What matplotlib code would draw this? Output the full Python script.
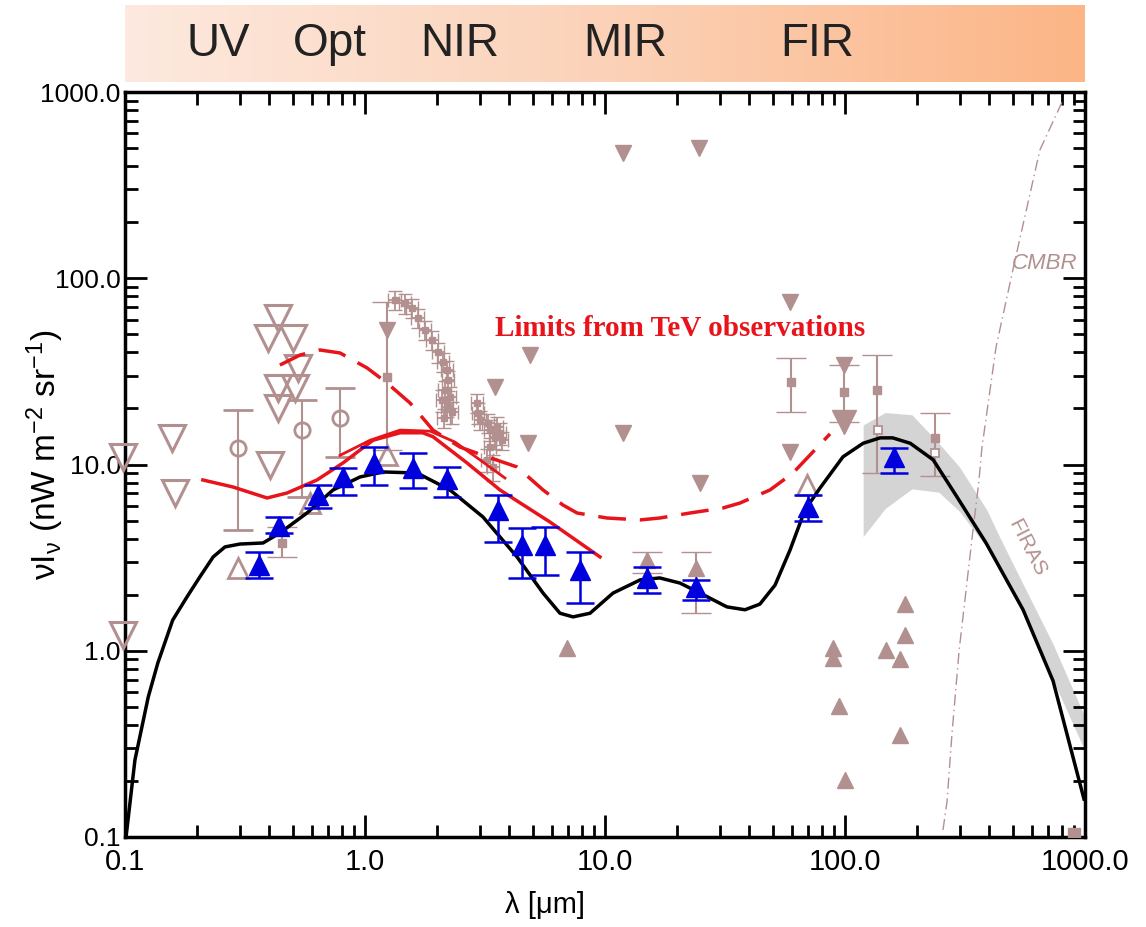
import numpy as np
import matplotlib.pyplot as plt
from matplotlib.colors import LinearSegmentedColormap
from matplotlib.ticker import FixedLocator, LogLocator, NullFormatter

plt.rcParams['font.family'] = ['Liberation Sans', 'DejaVu Sans']
plt.rcParams['mathtext.fontset'] = 'custom'
plt.rcParams['mathtext.rm'] = 'Liberation Sans'
plt.rcParams['mathtext.it'] = 'Liberation Sans:italic'

BROWN = '#b39090'
BLUE = '#0000dd'
RED = '#e8141c'

# --- banner
band_labels = ['UV', 'Opt', 'NIR', 'MIR', 'FIR']

# --- model curve (black)
model_x = [0.101, 0.110, 0.125, 0.137, 0.158, 0.181, 0.205, 0.233, 0.261, 0.301, 0.376, 0.442,
           0.573, 0.736, 0.953, 1.19, 1.65, 2.26, 3.10, 4.30, 5.52, 6.49, 7.36, 8.66, 10.8, 14.0,
           16.9, 20.5, 24.9, 32.2, 38.3, 44.2, 51.1, 59.0, 68.1, 78.7, 98.1, 119, 140, 158, 187,
           233, 293, 387, 552, 736, 990]
model_y = [0.1, 0.259, 0.565, 0.859, 1.46, 1.94, 2.49, 3.19, 3.61, 3.74, 3.79, 4.29,
           5.49, 7.30, 8.57, 9.12, 9.0, 7.30, 5.23, 3.19, 2.04, 1.59, 1.52, 1.59, 2.04, 2.40,
           2.46, 2.31, 2.04, 1.72, 1.66, 1.78, 2.25, 3.47, 5.70, 7.48, 11.0, 13.0, 13.9, 13.9, 13.0,
           10.6, 6.69, 3.79, 1.66, 0.689, 0.16]

# --- TeV limits (red)
tev1_x = [0.211, 0.282, 0.391, 0.473, 0.631, 0.81, 1.08, 1.40, 1.74, 1.92, 2.66, 3.65, 5.90, 9.53]
tev1_y = [8.26, 7.57, 6.61, 7.03, 8.26, 10.2, 13.5, 14.8, 14.8, 14.1, 10.2, 7.30, 4.91, 3.19]
tev2_x = [0.787, 1.05, 1.40, 1.87, 2.37, 3.01, 3.83]
tev2_y = [11.2, 13.5, 15.3, 15.1, 13.2, 10.6, 8.46]
tev3_x = [0.442, 0.536, 0.649, 0.787, 1.02, 1.235, 1.54, 1.92, 2.49, 3.10, 4.30, 5.52, 6.68,
          7.65, 10.2, 14.0, 16.9, 22.6, 31.0, 36.5, 48.7, 60.7, 86.6]
tev3_y = [34.2, 38.7, 41.2, 39.7, 33.0, 27.4, 21.4, 15.3, 12.4, 11.2, 9.70, 7.30, 6.06,
          5.49, 5.16, 5.04, 5.16, 5.49, 5.84, 6.21, 7.30, 9.0, 14.6]

# --- blue triangles
blue_x = [0.36, 0.44, 0.64, 0.81, 1.09, 1.585, 2.2, 3.58, 4.5, 5.62, 7.9, 15, 24, 70, 160]
blue_y = [2.9, 4.7, 6.9, 8.6, 10.2, 9.6, 8.4, 5.7, 3.7, 3.7, 2.7, 2.45, 2.2, 5.9, 11.0]
blue_lo = [2.46, 4.29, 5.83, 6.86, 7.76, 7.5, 6.7, 3.83, 2.46, 2.55, 1.81, 2.04, 1.87, 5.0, 9.0]
blue_hi = [3.39, 5.23, 7.76, 9.57, 12.4, 11.5, 9.7, 6.86, 4.55, 4.6, 3.39, 2.8, 2.4, 6.9, 12.3]

# --- brown: open down triangles (upper limits)
odn_x = [0.098, 0.098, 0.157, 0.162, 0.434, 0.394, 0.501, 0.525, 0.434, 0.51, 0.434, 0.402]
odn_y = [11.0, 1.21, 13.9, 7.03, 61.2, 47.7, 47.7, 33.0, 25.8, 25.8, 20.1, 9.9]

# --- brown: open circles with errors
circ_x = [0.296, 0.547, 0.787]
circ_y = [12.3, 15.3, 17.8]
circ_lo = [4.45, 6.7, 11.0]
circ_hi = [19.6, 22.2, 25.8]

# --- brown: open up triangles
oup_x = [0.296, 0.59, 1.24, 69.5]
oup_y = [2.78, 6.2, 11.2, 7.76]

# --- brown: filled down triangles
fdn_x = [1.24, 3.48, 4.87, 4.78, 11.9, 24.9, 11.9, 24.6, 59, 59, 99]
fdn_y = [52.7, 26.0, 38.7, 13.0, 14.8, 7.96, 470, 500, 74.5, 11.7, 34.2]
fdn_big_x = [99]
fdn_big_y = [16.9]

# --- brown: filled up triangles
fup_x = [6.95, 15, 24, 89, 89, 94.4, 100, 178, 178, 148, 169, 169]
fup_y = [1.03, 3.07, 2.78, 1.03, 0.915, 0.505, 0.202, 1.78, 1.21, 1.01, 0.9, 0.353]
fup_err_x = [15, 24]
fup_err_y = [3.07, 2.78]
fup_err_lo = [2.6, 1.6]
fup_err_hi = [3.4, 3.4]

# --- brown: points with error bars (small filled)
pt_x = [0.45, 1.24, 59.5, 99, 136, 237]
pt_y = [3.79, 29.5, 27.7, 24.5, 25.1, 13.9]
pt_lo = [3.2, 12.0, 19.1, 16.9, 9.0, 8.7]
pt_hi = [4.6, 74.5, 37.4, 34.2, 38.7, 18.9]
rect_x = [137, 237]
rect_y = [15.3, 11.5]

# --- brown: near-IR cluster
cl_x = [1.33, 1.47, 1.57, 1.66, 1.78, 1.90, 2.02, 2.11, 2.20, 2.22, 2.15, 2.26, 2.09, 2.20,
        2.30, 2.13, 2.93, 2.96, 3.02, 3.25, 3.32, 3.55, 3.65, 3.48, 3.72, 3.32, 3.22, 3.41]
cl_y = [76.4, 73.6, 69.2, 61.2, 52.8, 46.6, 40.1, 35.5, 32.1, 28.4, 25.1, 23.0, 22.2, 20.4,
        19.1, 17.8, 21.4, 18.9, 17.3, 16.7, 15.3, 15.9, 14.8, 14.1, 13.5, 12.4, 10.6, 9.7]
cl_dx = [0.08, 0.09, 0.09, 0.1, 0.1, 0.11, 0.12, 0.12, 0.13, 0.13, 0.13, 0.13, 0.12, 0.13,
         0.14, 0.13, 0.17, 0.17, 0.18, 0.19, 0.19, 0.2, 0.21, 0.2, 0.22, 0.19, 0.19, 0.2]
cl_dy = [9, 9, 8, 7, 6, 5.5, 5, 4, 4, 3.5, 3, 3, 3, 2.5, 2.5, 2, 2.5, 2.5, 2, 2, 2, 2, 2, 2,
         1.5, 1.5, 1.5, 1.5]

# --- FIRAS band
firas_x = [119, 147, 190, 246, 300, 390, 440, 550, 735, 1000]
firas_hi = [16.3, 19.0, 18.5, 13.0, 9.7, 5.7, 4.1, 2.3, 1.09, 0.44]
firas_lo = [4.1, 5.8, 7.4, 7.1, 5.6, 3.6, 2.8, 1.6, 0.70, 0.29]

# --- CMBR
cmb_x = [256, 266, 279, 299, 322, 338, 361, 372, 426, 511, 649, 810]
cmb_y = [0.109, 0.154, 0.357, 1.01, 2.31, 3.98, 8.05, 12.3, 42.8, 125, 489, 906]

fig = plt.figure(figsize=(11.46, 9.27), dpi=100)
ax = fig.add_axes([125 / 1146, 1 - 837 / 927, 960 / 1146, 745 / 927])

# banner with gradient
bx = fig.add_axes([125 / 1146, 1 - 82 / 927, 960 / 1146, 77 / 927])
cmap = LinearSegmentedColormap.from_list('band', ['#fde9df', '#fbd2b8', '#fbb586'])
bx.imshow(np.linspace(0, 1, 256)[None, :], aspect='auto', cmap=cmap, extent=[0, 1, 0, 1])
bx.set_axis_off()
for lab, xp in zip(band_labels, [218, 330, 460, 625, 817]):
    bx.text((xp - 125) / 960, 0.5, lab, ha='center', va='center', fontsize=33,
            color='#222222')

ax.set_xscale('log')
ax.set_yscale('log')
ax.set_xlim(0.1, 1000)
ax.set_ylim(0.1, 1000)

# FIRAS band
ax.fill_between(firas_x, firas_lo, firas_hi, color='#d4d4d4', lw=0, zorder=1)

# CMBR
ax.plot(cmb_x, cmb_y, color=BROWN, lw=1, ls=(0, (8, 3, 1, 3)), zorder=2)

# brown data
ax.errorbar(cl_x, cl_y, xerr=cl_dx, yerr=cl_dy, fmt='s', ms=4, color=BROWN, ecolor=BROWN,
            elinewidth=1.3, capsize=5, zorder=3)
ax.errorbar(pt_x, pt_y, yerr=[np.array(pt_y) - pt_lo, np.array(pt_hi) - pt_y], fmt='s', ms=6,
            color=BROWN, ecolor=BROWN, elinewidth=1.5, capsize=11, zorder=3)
ax.plot(rect_x, rect_y, 's', ms=6, mfc='white', mec=BROWN, mew=1.3, zorder=4)
ax.errorbar(circ_x, circ_y, yerr=[np.array(circ_y) - circ_lo, np.array(circ_hi) - circ_y],
            fmt='o', ms=11, mfc='none', mec=BROWN, mew=2, ecolor=BROWN, elinewidth=1.5,
            capsize=11, zorder=3)
ax.errorbar(fup_err_x, fup_err_y,
            yerr=[np.array(fup_err_y) - fup_err_lo, np.array(fup_err_hi) - fup_err_y],
            fmt='none', ecolor=BROWN, elinewidth=1.5, capsize=11, zorder=3)
ax.plot(odn_x, odn_y, 'v', ms=19, mfc='none', mec=BROWN, mew=2.2, ls='none', clip_on=False, zorder=3)
ax.plot(oup_x, oup_y, '^', ms=15, mfc='none', mec=BROWN, mew=2, ls='none', zorder=3)
ax.plot(fdn_x, fdn_y, 'v', ms=12, color=BROWN, ls='none', zorder=3)
ax.plot(fdn_big_x, fdn_big_y, 'v', ms=17, color=BROWN, ls='none', zorder=3)
ax.plot(fup_x, fup_y, '^', ms=12, color=BROWN, ls='none', zorder=3)
ax.plot([900], [0.104], 's', ms=9, color=BROWN, zorder=3)

# TeV limits
ax.plot(tev1_x, tev1_y, color=RED, lw=2.5, zorder=5)
ax.plot(tev2_x, tev2_y, color=RED, lw=2.0, zorder=5)
ax.plot(tev3_x, tev3_y, color=RED, lw=2.5, ls=(0, (8, 4)), zorder=5)

# model
ax.plot(model_x, model_y, color='black', lw=2.5, zorder=6)

# blue points
ax.errorbar(blue_x, blue_y, yerr=[np.array(blue_y) - blue_lo, np.array(blue_hi) - blue_y],
            fmt='^', ms=14, color=BLUE, ecolor=BLUE, elinewidth=1.8, capsize=10, capthick=1.8,
            zorder=7)

# texts
ax.text(0.578, 0.683, 'Limits from TeV observations', transform=ax.transAxes, ha='center',
        va='center', color=RED, fontsize=21, fontweight='bold', family='Liberation Serif', zorder=8)
ax.text(0.958, 0.770, 'CMBR', transform=ax.transAxes, ha='center', va='center', color=BROWN,
        fontsize=16, style='italic')
ax.text(0.940, 0.388, 'FIRAS', transform=ax.transAxes, ha='center', va='center', color=BROWN,
        fontsize=15, rotation=-63)

# axes style
for s in ax.spines.values():
    s.set_linewidth(2.5)
ax.xaxis.set_major_locator(FixedLocator([0.1, 1, 10, 100, 1000]))
ax.yaxis.set_major_locator(FixedLocator([0.1, 1, 10, 100, 1000]))
ax.xaxis.set_minor_locator(LogLocator(base=10, subs=np.arange(2, 10)))
ax.yaxis.set_minor_locator(LogLocator(base=10, subs=np.arange(2, 10)))
ax.xaxis.set_minor_formatter(NullFormatter())
ax.yaxis.set_minor_formatter(NullFormatter())
ax.set_xticklabels(['0.1', '1.0', '10.0', '100.0', '1000.0'])
ax.set_yticklabels(['0.1', '1.0', '10.0', '100.0', '1000.0'])
ax.tick_params(which='both', direction='in', top=True, right=True, width=2)
ax.tick_params(which='major', length=16, pad=8)
ax.tick_params(which='minor', length=9)
ax.tick_params(axis='x', labelsize=21)
ax.tick_params(axis='y', pad=3, labelsize=19)

fig.text(545 / 1146, 1 - 905 / 927, 'λ [μm]', ha='center', va='center', fontsize=21)
fig.text(45 / 1146, 1 - 455 / 927, r'νI$_\mathrm{ν}$ (nW m$^{-2}$ sr$^{-1}$)', ha='center',
         va='center', rotation=90, fontsize=24)

fig.savefig('out.png', dpi=100)
